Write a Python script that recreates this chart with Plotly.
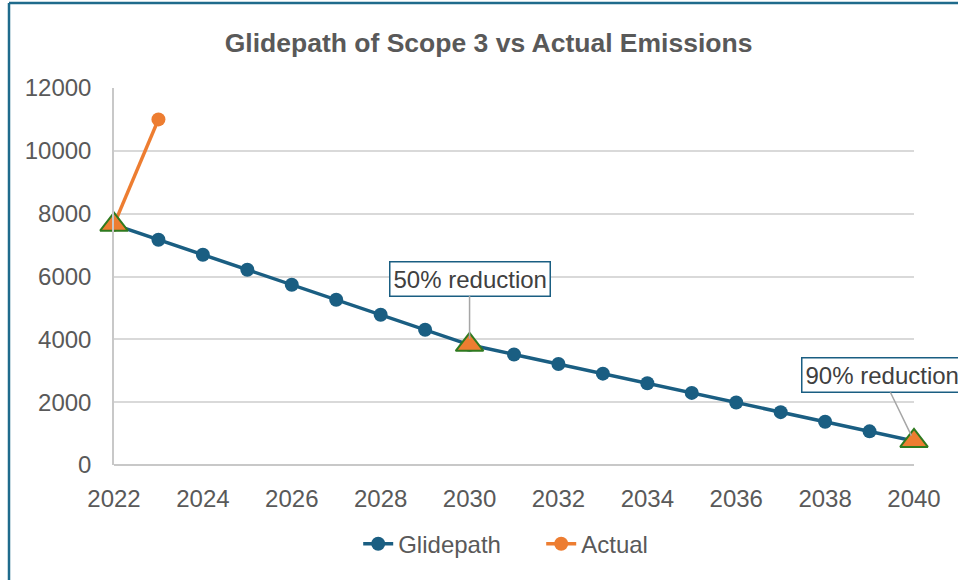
import plotly.graph_objects as go

years = list(range(2022, 2041))
glidepath = [7650, 7172, 6694, 6216, 5738, 5259, 4781, 4303, 3825,
             3519, 3213, 2907, 2601, 2295, 1989, 1683, 1377, 1071, 765]
actual_years = [2022, 2023]
actual = [7650, 11000]
milestone_years = [2022, 2030, 2040]
milestones = [7650, 3825, 765]
milestone_labels = ["", "50% reduction", "90% reduction"]

BLUE = "#1a5e82"
ORANGE = "#ED7D31"
GREEN = "#2f7a1f"
TXT = "#595959"
FONT = "Liberation Sans, Arial, sans-serif"

fig = go.Figure()
fig.add_trace(go.Scatter(x=years, y=glidepath, name="Glidepath", mode="lines+markers",
                         line=dict(color=BLUE, width=3.5),
                         marker=dict(color=BLUE, size=14), cliponaxis=False))
fig.add_trace(go.Scatter(x=actual_years, y=actual, name="Actual", mode="lines+markers",
                         line=dict(color=ORANGE, width=3.5),
                         marker=dict(color=ORANGE, size=14), cliponaxis=False))
fig.add_trace(go.Scatter(x=milestone_years, y=milestones, name="Milestones", mode="markers",
                         marker=dict(symbol="triangle-up", color=ORANGE, size=24,
                                     line=dict(color=GREEN, width=2)),
                         showlegend=False, cliponaxis=False))

offsets = {2030: (0, -66), 2040: (-32, -66)}
for xv, yv, lab in zip(milestone_years, milestones, milestone_labels):
    if not lab:
        continue
    ax, ay = offsets[xv]
    fig.add_annotation(x=xv, y=yv, text=lab, showarrow=True, arrowhead=0,
                       arrowwidth=1.5, arrowcolor="#a6a6a6", ax=ax, ay=ay,
                       font=dict(family=FONT, size=24, color="#404040"),
                       bordercolor=BLUE, borderwidth=1.5, borderpad=3,
                       bgcolor="white", standoff=6)

fig.update_layout(
    width=958, height=580,
    margin=dict(l=114, r=44, t=88, b=115),
    paper_bgcolor="white", plot_bgcolor="white",
    title=dict(text="<b>Glidepath of Scope 3 vs Actual Emissions</b>", x=0.51, xanchor="center",
               y=0.926, yanchor="middle",
               font=dict(family=FONT, size=26.5, color=TXT)),
    font=dict(family=FONT, size=24, color=TXT),
    legend=dict(orientation="h", x=0.534, xanchor="center", y=-0.21, yanchor="middle",
                entrywidth=138,
                font=dict(family=FONT, size=24, color=TXT)),
    xaxis=dict(range=[2022, 2040], tickmode="linear", tick0=2022, dtick=2,
               showgrid=False, zeroline=False, showline=False,
               ticks="outside", ticklen=12, tickcolor="rgba(0,0,0,0)",
               tickfont=dict(size=24, color=TXT)),
    yaxis=dict(range=[0, 12000], tickmode="linear", tick0=0, dtick=2000, tickformat="d",
               showgrid=True, gridcolor="#d9d9d9", gridwidth=1.5,
               zeroline=True, zerolinecolor="#c8c8c8", zerolinewidth=1.5,
               showline=True, linecolor="#c8c8c8", linewidth=1.5,
               ticks="outside", ticklen=16, tickcolor="rgba(0,0,0,0)",
               tickfont=dict(size=24, color=TXT)),
    showlegend=True,
)

# chart border (left and top visible)
fig.add_shape(type="line", xref="paper", yref="paper", x0=-0.13125, x1=-0.13125,
              y0=-0.35, y1=1.2255, line=dict(color="#1f6b8c", width=2.5))
fig.add_shape(type="line", xref="paper", yref="paper", x0=-0.13125, x1=1.1,
              y0=1.2255, y1=1.2255, line=dict(color="#1f6b8c", width=2.5))

fig.write_html("out.html", config={"displayModeBar": False},
               post_script="document.body.style.margin='0';")
